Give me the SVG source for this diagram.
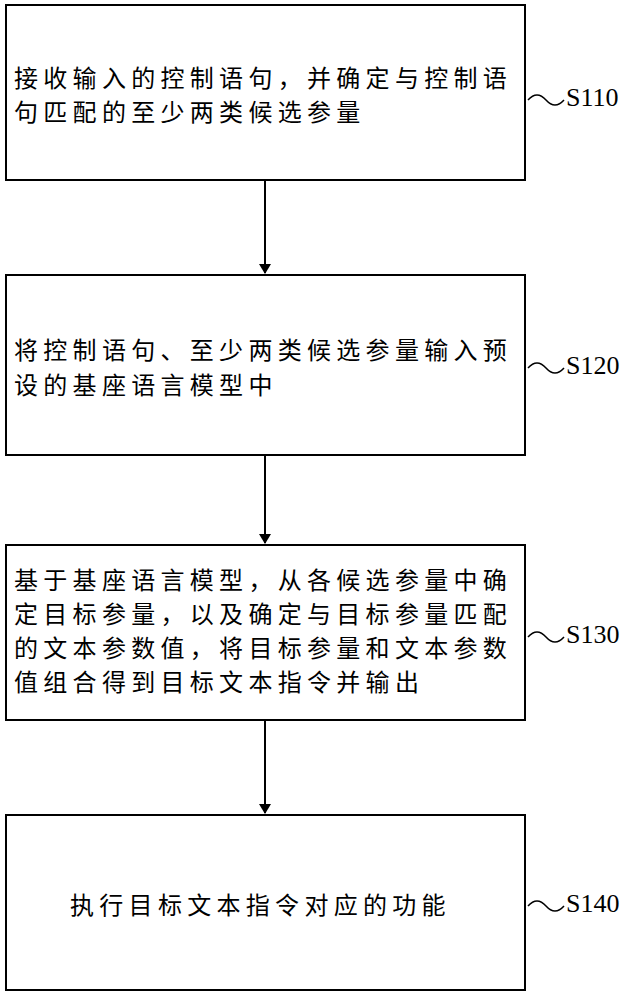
<svg xmlns="http://www.w3.org/2000/svg" width="633" height="1000" viewBox="0 0 633 1000">
<style>
.b{fill:#fff;stroke:#000;stroke-width:2}
.t{font-family:"Noto Sans CJK SC",sans-serif;font-size:24px;letter-spacing:5.3px;fill:#000}
.s{font-family:"Liberation Serif",serif;font-size:26px;fill:#000}
.c{fill:none;stroke:#000;stroke-width:1.5}
</style>
<defs><marker id="a" markerWidth="10" markerHeight="12" refX="9" refY="6" orient="auto" markerUnits="userSpaceOnUse"><path d="M0,0 L10,6 L0,12 Z" fill="#000"/></marker></defs>
<rect width="633" height="1000" fill="#fff"/>
<g id="n1"><rect class="b" x="6" y="5" width="519" height="175"/>
<text class="t" x="14" y="87">接收输入的控制语句，并确定与控制语</text>
<text class="t" x="14" y="121">句匹配的至少两类候选参量</text></g>
<g id="n2"><rect class="b" x="6" y="275" width="519" height="180"/>
<text class="t" x="14" y="359">将控制语句、至少两类候选参量输入预</text>
<text class="t" x="14" y="394">设的基座语言模型中</text></g>
<g id="n3"><rect class="b" x="6" y="545" width="519" height="175"/>
<text class="t" x="14" y="589">基于基座语言模型，从各候选参量中确</text>
<text class="t" x="14" y="623">定目标参量，以及确定与目标参量匹配</text>
<text class="t" x="14" y="657">的文本参数值，将目标参量和文本参数</text>
<text class="t" x="14" y="691">值组合得到目标文本指令并输出</text></g>
<g id="n4"><rect class="b" x="6" y="815" width="519" height="175"/>
<text class="t" x="70" y="914">执行目标文本指令对应的功能</text></g>
<g id="labels">
<path class="c" d="M528,100 q9,-10 18,0 t18,0"/><text class="s" x="566" y="106">S110</text>
<path class="c" d="M528,368 q9,-10 18,0 t18,0"/><text class="s" x="566" y="374">S120</text>
<path class="c" d="M528,637 q9,-10 18,0 t18,0"/><text class="s" x="566" y="643">S130</text>
<path class="c" d="M528,906 q9,-10 18,0 t18,0"/><text class="s" x="566" y="912">S140</text>
</g>
<g id="connectors" stroke="#000" stroke-width="2">
<line x1="265" y1="181" x2="265" y2="273" marker-end="url(#a)"/>
<line x1="265" y1="456" x2="265" y2="543" marker-end="url(#a)"/>
<line x1="265" y1="721" x2="265" y2="813" marker-end="url(#a)"/>
</g>
</svg>
